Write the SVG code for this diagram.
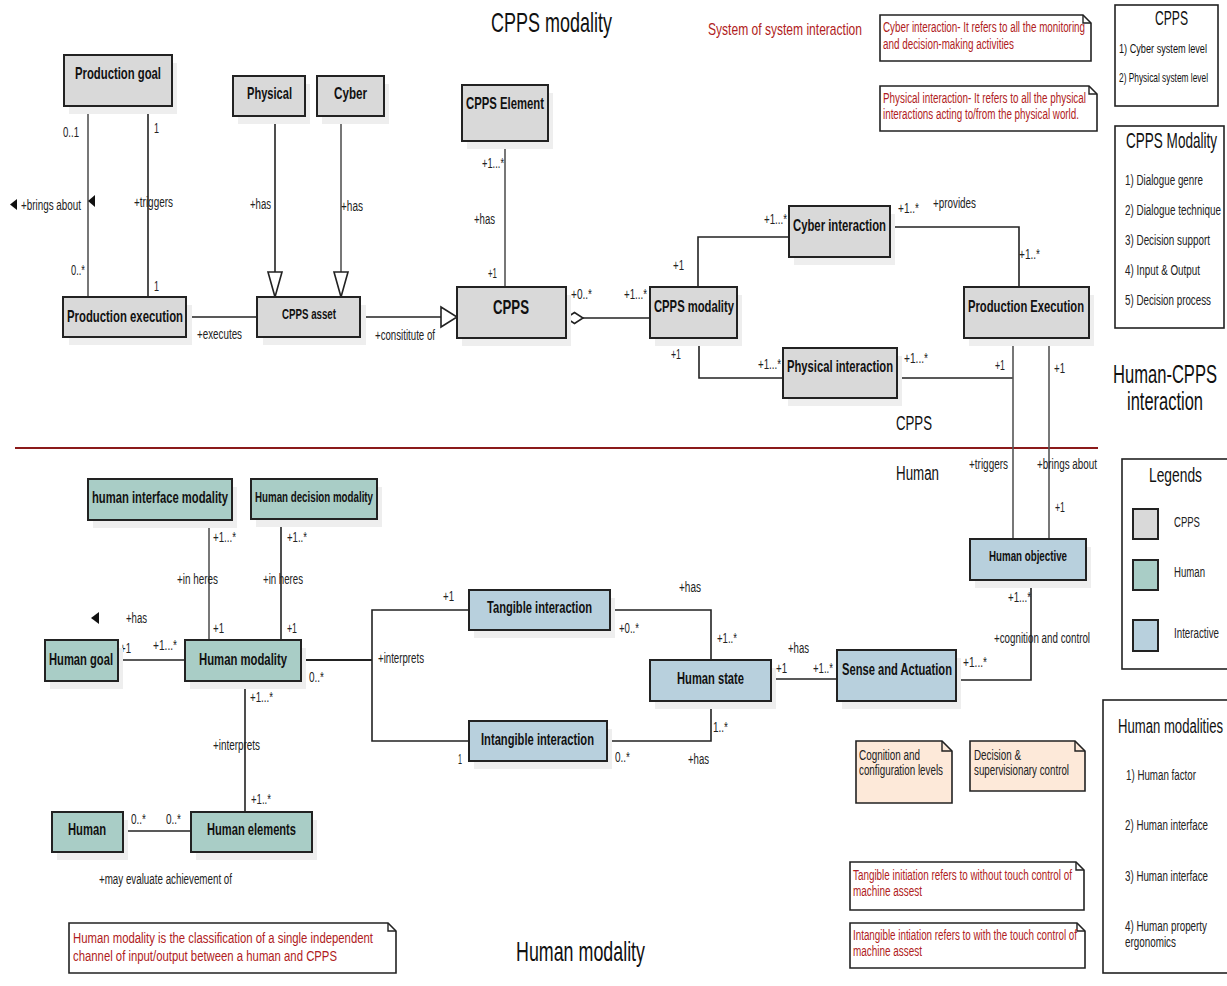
<svg xmlns="http://www.w3.org/2000/svg" width="1227" height="986" viewBox="0 0 1227 986">
<defs>
<style>
text{font-family:"Liberation Sans",Arial,sans-serif;fill:#111}
.nb{font-weight:bold;font-size:11.3px}
.ns{font-weight:bold;font-size:9.7px}
.lb{font-size:9.3px;fill:#222}
.rd{font-size:8.8px;fill:#b01c22}
.li{font-size:9.3px;fill:#222}
.box{stroke:#222;stroke-width:2}
.g{fill:#d9d9d9}
.h{fill:#a9cdc6}
.i{fill:#b8d0dd}
.p{fill:#fde9d9}
.sh{fill:#eeeeee}
.ln{fill:none;stroke:#222;stroke-width:1.6}
.lg{fill:none;stroke:#555;stroke-width:1.6}
.frame{fill:#fff;stroke:#222;stroke-width:1.6}
.note{fill:#fff;stroke:#222;stroke-width:1.6}
.fold{fill:none;stroke:#222;stroke-width:1.4}
.tri{fill:#fff;stroke:#222;stroke-width:1.6}
</style>
<linearGradient id="fadeLine" x1="0" y1="0" x2="1" y2="0">
<stop offset="0" stop-color="#8b1a1a" stop-opacity="0"/>
<stop offset="1" stop-color="#8b1a1a" stop-opacity="1"/>
</linearGradient>
</defs>
<rect width="1227" height="986" fill="#fff"/>

<!-- titles and region labels -->
<g id="titles">
<text style="font-size:18.7px" transform="translate(491,32) scale(1,1.5)" textLength="121" lengthAdjust="spacingAndGlyphs">CPPS modality</text>
<text style="font-size:18.7px" transform="translate(516,961) scale(1,1.5)" textLength="129" lengthAdjust="spacingAndGlyphs">Human modality</text>
<text style="font-size:11.3px;fill:#b01c22" transform="translate(708,35) scale(1,1.5)" textLength="154" lengthAdjust="spacingAndGlyphs">System of system interaction</text>
<text style="font-size:17px" transform="translate(1113,383) scale(1,1.5)" textLength="104" lengthAdjust="spacingAndGlyphs">Human-CPPS</text>
<text style="font-size:17px" transform="translate(1127,410) scale(1,1.5)" textLength="76" lengthAdjust="spacingAndGlyphs">interaction</text>
<text style="font-size:14px" transform="translate(896,430) scale(1,1.5)" textLength="36" lengthAdjust="spacingAndGlyphs">CPPS</text>
<text style="font-size:14px" transform="translate(896,480) scale(1,1.5)" textLength="43" lengthAdjust="spacingAndGlyphs">Human</text>
<line x1="15" y1="448" x2="1098" y2="448" stroke="#8b1a1a" stroke-width="2"/>
<line x1="737" y1="984" x2="1103" y2="984" stroke="url(#fadeLine)" stroke-width="2.5"/>
</g>

<!-- connectors -->
<g id="connectors">
<line class="lg" x1="88" y1="106" x2="88" y2="297"/>
<line class="ln" x1="148" y1="106" x2="148" y2="297"/>
<line class="ln" x1="275" y1="116" x2="275" y2="272"/>
<polygon class="tri" points="268,272 282,272 275,297"/>
<line class="lg" x1="341" y1="116" x2="341" y2="272"/>
<polygon class="tri" points="334,272 348,272 341,297"/>
<line class="ln" x1="186" y1="317" x2="257" y2="317"/>
<line class="ln" x1="360" y1="317" x2="441" y2="317"/>
<polygon class="tri" points="441,307 441,327 457,317"/>
<line class="lg" x1="505" y1="141" x2="505" y2="287"/>
<line class="ln" x1="583" y1="318" x2="650" y2="318"/>
<polygon class="tri" points="566,318 574.5,312.5 583,318 574.5,323.5"/>
<polyline class="ln" points="698,287 698,237 789,237"/>
<polyline class="ln" points="699,338 699,378 783,378"/>
<polyline class="ln" points="890,227 1019,227 1019,287"/>
<line class="ln" x1="897" y1="378" x2="1013" y2="378"/>
<line class="lg" x1="1013" y1="338" x2="1013" y2="539"/>
<line class="lg" x1="1049" y1="338" x2="1049" y2="539"/>
<line class="lg" x1="209" y1="520" x2="209" y2="640"/>
<line class="ln" x1="281" y1="519" x2="281" y2="640"/>
<line class="ln" x1="118" y1="660" x2="185" y2="660"/>
<line class="ln" x1="301" y1="660" x2="372" y2="660" style="stroke-width:2.2"/>
<polyline class="ln" points="469,610 372,610 372,741 469,741"/>
<line class="ln" x1="245" y1="681" x2="245" y2="812"/>
<line class="ln" x1="123" y1="831" x2="191" y2="831"/>
<polyline class="ln" points="610,610 711,610 711,660"/>
<polyline class="ln" points="607,741 711,741 711,701"/>
<line class="ln" x1="771" y1="679" x2="837" y2="679"/>
<polyline class="ln" points="956,680 1031,680 1031,580"/>
</g>

<!-- connector labels -->
<g id="labels">
<text class="lb" transform="translate(63,137) scale(1,1.5)" textLength="16" lengthAdjust="spacingAndGlyphs">0..1</text>
<text class="lb" transform="translate(154,133) scale(1,1.5)" textLength="5" lengthAdjust="spacingAndGlyphs">1</text>
<polygon points="17,199 17,210 10,204.5" fill="#111"/>
<text class="lb" transform="translate(21,210) scale(1,1.5)" textLength="60" lengthAdjust="spacingAndGlyphs">+brings about</text>
<polygon points="95,195 95,207 88,201" fill="#111"/>
<text class="lb" transform="translate(134,207) scale(1,1.5)" textLength="39" lengthAdjust="spacingAndGlyphs">+triggers</text>
<text class="lb" transform="translate(71,275) scale(1,1.5)" textLength="14" lengthAdjust="spacingAndGlyphs">0..*</text>
<text class="lb" transform="translate(154,291) scale(1,1.5)" textLength="5" lengthAdjust="spacingAndGlyphs">1</text>
<text class="lb" transform="translate(250,209) scale(1,1.5)" textLength="21" lengthAdjust="spacingAndGlyphs">+has</text>
<text class="lb" transform="translate(341,211) scale(1,1.5)" textLength="22" lengthAdjust="spacingAndGlyphs">+has</text>
<text class="lb" transform="translate(197,339) scale(1,1.5)" textLength="45" lengthAdjust="spacingAndGlyphs">+executes</text>
<text class="lb" transform="translate(375,340) scale(1,1.5)" textLength="60" lengthAdjust="spacingAndGlyphs">+consititute of</text>
<text class="lb" transform="translate(482,168) scale(1,1.5)" textLength="22" lengthAdjust="spacingAndGlyphs">+1...*</text>
<text class="lb" transform="translate(474,224) scale(1,1.5)" textLength="21" lengthAdjust="spacingAndGlyphs">+has</text>
<text class="lb" transform="translate(488,278) scale(1,1.5)" textLength="9" lengthAdjust="spacingAndGlyphs">+1</text>
<text class="lb" transform="translate(571,299) scale(1,1.5)" textLength="21" lengthAdjust="spacingAndGlyphs">+0..*</text>
<text class="lb" transform="translate(624,299) scale(1,1.5)" textLength="23" lengthAdjust="spacingAndGlyphs">+1...*</text>
<text class="lb" transform="translate(673,270) scale(1,1.5)" textLength="11" lengthAdjust="spacingAndGlyphs">+1</text>
<text class="lb" transform="translate(764,224) scale(1,1.5)" textLength="23" lengthAdjust="spacingAndGlyphs">+1...*</text>
<text class="lb" transform="translate(671,359) scale(1,1.5)" textLength="10" lengthAdjust="spacingAndGlyphs">+1</text>
<text class="lb" transform="translate(758,369) scale(1,1.5)" textLength="23" lengthAdjust="spacingAndGlyphs">+1...*</text>
<text class="lb" transform="translate(898,213) scale(1,1.5)" textLength="21" lengthAdjust="spacingAndGlyphs">+1..*</text>
<text class="lb" transform="translate(933,208) scale(1,1.5)" textLength="43" lengthAdjust="spacingAndGlyphs">+provides</text>
<text class="lb" transform="translate(1019,259) scale(1,1.5)" textLength="21" lengthAdjust="spacingAndGlyphs">+1..*</text>
<text class="lb" transform="translate(904,363) scale(1,1.5)" textLength="24" lengthAdjust="spacingAndGlyphs">+1...*</text>
<text class="lb" transform="translate(995,370) scale(1,1.5)" textLength="10" lengthAdjust="spacingAndGlyphs">+1</text>
<text class="lb" transform="translate(1054,373) scale(1,1.5)" textLength="11" lengthAdjust="spacingAndGlyphs">+1</text>
<text class="lb" transform="translate(969,469) scale(1,1.5)" textLength="39" lengthAdjust="spacingAndGlyphs">+triggers</text>
<text class="lb" transform="translate(1037,469) scale(1,1.5)" textLength="60" lengthAdjust="spacingAndGlyphs">+brings about</text>
<text class="lb" transform="translate(1055,512) scale(1,1.5)" textLength="10" lengthAdjust="spacingAndGlyphs">+1</text>
<text class="lb" transform="translate(213,542) scale(1,1.5)" textLength="23" lengthAdjust="spacingAndGlyphs">+1...*</text>
<text class="lb" transform="translate(287,542) scale(1,1.5)" textLength="20" lengthAdjust="spacingAndGlyphs">+1..*</text>
<text class="lb" transform="translate(177,584) scale(1,1.5)" textLength="41" lengthAdjust="spacingAndGlyphs">+in heres</text>
<text class="lb" transform="translate(263,584) scale(1,1.5)" textLength="40" lengthAdjust="spacingAndGlyphs">+in heres</text>
<text class="lb" transform="translate(213,633) scale(1,1.5)" textLength="11" lengthAdjust="spacingAndGlyphs">+1</text>
<text class="lb" transform="translate(287,633) scale(1,1.5)" textLength="10" lengthAdjust="spacingAndGlyphs">+1</text>
<polygon points="99,612 99,624 91,618" fill="#111"/>
<text class="lb" transform="translate(126,623) scale(1,1.5)" textLength="21" lengthAdjust="spacingAndGlyphs">+has</text>
<text class="lb" transform="translate(120,653) scale(1,1.5)" textLength="11" lengthAdjust="spacingAndGlyphs">+1</text>
<text class="lb" transform="translate(153,650) scale(1,1.5)" textLength="24" lengthAdjust="spacingAndGlyphs">+1...*</text>
<text class="lb" transform="translate(309,682) scale(1,1.5)" textLength="15" lengthAdjust="spacingAndGlyphs">0..*</text>
<text class="lb" transform="translate(378,663) scale(1,1.5)" textLength="46" lengthAdjust="spacingAndGlyphs">+interprets</text>
<text class="lb" transform="translate(250,702) scale(1,1.5)" textLength="23" lengthAdjust="spacingAndGlyphs">+1...*</text>
<text class="lb" transform="translate(213,750) scale(1,1.5)" textLength="47" lengthAdjust="spacingAndGlyphs">+interprets</text>
<text class="lb" transform="translate(251,804) scale(1,1.5)" textLength="20" lengthAdjust="spacingAndGlyphs">+1..*</text>
<text class="lb" transform="translate(131,824) scale(1,1.5)" textLength="15" lengthAdjust="spacingAndGlyphs">0..*</text>
<text class="lb" transform="translate(166,824) scale(1,1.5)" textLength="15" lengthAdjust="spacingAndGlyphs">0..*</text>
<text class="lb" transform="translate(99,884) scale(1,1.5)" textLength="133" lengthAdjust="spacingAndGlyphs">+may evaluate achievement of</text>
<text class="lb" transform="translate(443,601) scale(1,1.5)" textLength="11" lengthAdjust="spacingAndGlyphs">+1</text>
<text class="lb" transform="translate(458,764) scale(1,1.5)" textLength="4" lengthAdjust="spacingAndGlyphs">1</text>
<text class="lb" transform="translate(679,592) scale(1,1.5)" textLength="22" lengthAdjust="spacingAndGlyphs">+has</text>
<text class="lb" transform="translate(619,633) scale(1,1.5)" textLength="20" lengthAdjust="spacingAndGlyphs">+0..*</text>
<text class="lb" transform="translate(717,643) scale(1,1.5)" textLength="20" lengthAdjust="spacingAndGlyphs">+1..*</text>
<text class="lb" transform="translate(713,732) scale(1,1.5)" textLength="15" lengthAdjust="spacingAndGlyphs">1..*</text>
<text class="lb" transform="translate(615,762) scale(1,1.5)" textLength="15" lengthAdjust="spacingAndGlyphs">0..*</text>
<text class="lb" transform="translate(688,764) scale(1,1.5)" textLength="21" lengthAdjust="spacingAndGlyphs">+has</text>
<text class="lb" transform="translate(788,653) scale(1,1.5)" textLength="21" lengthAdjust="spacingAndGlyphs">+has</text>
<text class="lb" transform="translate(776,673) scale(1,1.5)" textLength="11" lengthAdjust="spacingAndGlyphs">+1</text>
<text class="lb" transform="translate(813,673) scale(1,1.5)" textLength="20" lengthAdjust="spacingAndGlyphs">+1..*</text>
<text class="lb" transform="translate(1008,602) scale(1,1.5)" textLength="23" lengthAdjust="spacingAndGlyphs">+1...*</text>
<text class="lb" transform="translate(994,643) scale(1,1.5)" textLength="96" lengthAdjust="spacingAndGlyphs">+cognition and control</text>
<text class="lb" transform="translate(963,667) scale(1,1.5)" textLength="24" lengthAdjust="spacingAndGlyphs">+1...*</text>
</g>

<!-- CPPS nodes -->
<g id="production-goal">
<rect class="sh" x="69" y="63" width="108" height="51"/>
<rect class="box g" x="64" y="55" width="108" height="51"/>
<text class="nb" transform="translate(75,79) scale(1,1.5)" textLength="86" lengthAdjust="spacingAndGlyphs">Production goal</text>
</g>
<g id="physical">
<rect class="sh" x="238" y="84" width="72" height="40"/>
<rect class="box g" x="233" y="76" width="72" height="40"/>
<text class="nb" transform="translate(247,99) scale(1,1.5)" textLength="45" lengthAdjust="spacingAndGlyphs">Physical</text>
</g>
<g id="cyber">
<rect class="sh" x="322" y="84" width="67" height="40"/>
<rect class="box g" x="317" y="76" width="67" height="40"/>
<text class="nb" transform="translate(334,99) scale(1,1.5)" textLength="33" lengthAdjust="spacingAndGlyphs">Cyber</text>
</g>
<g id="production-execution">
<rect class="sh" x="69" y="305" width="123" height="40"/>
<rect class="box g" x="63" y="297" width="123" height="40"/>
<text class="nb" transform="translate(67,322) scale(1,1.5)" textLength="116" lengthAdjust="spacingAndGlyphs">Production execution</text>
</g>
<g id="cpps-asset">
<rect class="sh" x="263" y="305" width="103" height="40"/>
<rect class="box g" x="257" y="297" width="103" height="40"/>
<text class="ns" transform="translate(282,319) scale(1,1.5)" textLength="54" lengthAdjust="spacingAndGlyphs">CPPS asset</text>
</g>
<g id="cpps-element">
<rect class="sh" x="467" y="93" width="86" height="56"/>
<rect class="box g" x="462" y="85" width="86" height="56"/>
<text class="nb" transform="translate(466,109) scale(1,1.5)" textLength="78" lengthAdjust="spacingAndGlyphs">CPPS Element</text>
</g>
<g id="cpps">
<rect class="sh" x="462" y="295" width="109" height="51"/>
<rect class="box g" x="457" y="287" width="109" height="51"/>
<text style="font-weight:bold;font-size:14px" transform="translate(493,314) scale(1,1.5)" textLength="36" lengthAdjust="spacingAndGlyphs">CPPS</text>
</g>
<g id="cpps-modality">
<rect class="sh" x="655" y="295" width="87" height="51"/>
<rect class="box g" x="650" y="287" width="87" height="51"/>
<text class="nb" transform="translate(654,312) scale(1,1.5)" textLength="80" lengthAdjust="spacingAndGlyphs">CPPS modality</text>
</g>
<g id="cyber-interaction">
<rect class="sh" x="794" y="214" width="101" height="51"/>
<rect class="box g" x="789" y="206" width="101" height="51"/>
<text class="nb" transform="translate(793,231) scale(1,1.5)" textLength="93" lengthAdjust="spacingAndGlyphs">Cyber interaction</text>
</g>
<g id="physical-interaction">
<rect class="sh" x="788" y="356" width="114" height="50"/>
<rect class="box g" x="783" y="348" width="114" height="50"/>
<text class="nb" transform="translate(787,372) scale(1,1.5)" textLength="106" lengthAdjust="spacingAndGlyphs">Physical interaction</text>
</g>
<g id="production-execution-2">
<rect class="sh" x="969" y="295" width="125" height="51"/>
<rect class="box g" x="964" y="287" width="125" height="51"/>
<text class="nb" transform="translate(968,312) scale(1,1.5)" textLength="116" lengthAdjust="spacingAndGlyphs">Production Execution</text>
</g>

<!-- Human nodes -->
<g id="human-interface-modality">
<rect class="sh" x="93" y="487" width="144" height="41"/>
<rect class="box h" x="88" y="479" width="144" height="41"/>
<text class="nb" transform="translate(92,503) scale(1,1.5)" textLength="136" lengthAdjust="spacingAndGlyphs">human interface modality</text>
</g>
<g id="human-decision-modality">
<rect class="sh" x="256" y="487" width="126" height="40"/>
<rect class="box h" x="251" y="479" width="126" height="40"/>
<text class="ns" transform="translate(255,502) scale(1,1.5)" textLength="118" lengthAdjust="spacingAndGlyphs">Human decision modality</text>
</g>
<g id="human-goal">
<rect class="sh" x="50" y="648" width="73" height="41"/>
<rect class="box h" x="45" y="640" width="73" height="41"/>
<text class="nb" transform="translate(49,665) scale(1,1.5)" textLength="64" lengthAdjust="spacingAndGlyphs">Human goal</text>
</g>
<g id="human-modality">
<rect class="sh" x="190" y="648" width="116" height="41"/>
<rect class="box h" x="185" y="640" width="116" height="41"/>
<text class="nb" transform="translate(199,665) scale(1,1.5)" textLength="88" lengthAdjust="spacingAndGlyphs">Human modality</text>
</g>
<g id="human">
<rect class="sh" x="57" y="820" width="71" height="40"/>
<rect class="box h" x="52" y="812" width="71" height="40"/>
<text class="nb" transform="translate(68,835) scale(1,1.5)" textLength="38" lengthAdjust="spacingAndGlyphs">Human</text>
</g>
<g id="human-elements">
<rect class="sh" x="196" y="820" width="121" height="40"/>
<rect class="box h" x="191" y="812" width="121" height="40"/>
<text class="nb" transform="translate(207,835) scale(1,1.5)" textLength="89" lengthAdjust="spacingAndGlyphs">Human elements</text>
</g>

<!-- Interactive nodes -->
<g id="tangible-interaction">
<rect class="sh" x="474" y="598" width="141" height="40"/>
<rect class="box i" x="469" y="590" width="141" height="40"/>
<text class="nb" transform="translate(487,613) scale(1,1.5)" textLength="105" lengthAdjust="spacingAndGlyphs">Tangible interaction</text>
</g>
<g id="intangible-interaction">
<rect class="sh" x="474" y="729" width="138" height="40"/>
<rect class="box i" x="469" y="721" width="138" height="40"/>
<text class="nb" transform="translate(481,745) scale(1,1.5)" textLength="113" lengthAdjust="spacingAndGlyphs">Intangible interaction</text>
</g>
<g id="human-state">
<rect class="sh" x="655" y="668" width="121" height="41"/>
<rect class="box i" x="650" y="660" width="121" height="41"/>
<text class="nb" transform="translate(677,684) scale(1,1.5)" textLength="67" lengthAdjust="spacingAndGlyphs">Human state</text>
</g>
<g id="sense-and-actuation">
<rect class="sh" x="842" y="658" width="119" height="51"/>
<rect class="box i" x="837" y="650" width="119" height="51"/>
<text class="nb" transform="translate(842,675) scale(1,1.5)" textLength="110" lengthAdjust="spacingAndGlyphs">Sense and Actuation</text>
</g>
<g id="human-objective">
<rect class="sh" x="975" y="547" width="116" height="41"/>
<rect class="box i" x="970" y="539" width="116" height="41"/>
<text class="ns" transform="translate(989,561) scale(1,1.5)" textLength="78" lengthAdjust="spacingAndGlyphs">Human objective</text>
</g>

<!-- peach notes -->
<g id="note-cognition">
<path class="p" d="M856,741 H942 L952,751 V803 H856 Z" stroke="#222" stroke-width="1.6"/>
<path class="fold" d="M942,741 V751 H952"/>
<text class="li" transform="translate(859,760) scale(1,1.5)" textLength="61" lengthAdjust="spacingAndGlyphs">Cognition and</text>
<text class="li" transform="translate(859,775) scale(1,1.5)" textLength="84" lengthAdjust="spacingAndGlyphs">configuration levels</text>
</g>
<g id="note-decision">
<path class="p" d="M970,741 H1075 L1085,751 V791 H970 Z" stroke="#222" stroke-width="1.6"/>
<path class="fold" d="M1075,741 V751 H1085"/>
<text class="li" transform="translate(974,760) scale(1,1.5)" textLength="47" lengthAdjust="spacingAndGlyphs">Decision &amp;</text>
<text class="li" transform="translate(974,775) scale(1,1.5)" textLength="95" lengthAdjust="spacingAndGlyphs">supervisionary control</text>
</g>

<!-- red notes -->
<g id="note-cyber">
<path class="note" d="M880,15 H1083 L1091,23 V61 H880 Z"/>
<path class="fold" d="M1083,15 V23 H1091"/>
<text class="rd" transform="translate(883,32) scale(1,1.7)" textLength="202" lengthAdjust="spacingAndGlyphs">Cyber interaction- It refers to all the monitoring</text>
<text class="rd" transform="translate(883,49) scale(1,1.7)" textLength="131" lengthAdjust="spacingAndGlyphs">and decision-making activities</text>
</g>
<g id="note-physical">
<path class="note" d="M880,86 H1089 L1097,94 V131 H880 Z"/>
<path class="fold" d="M1089,86 V94 H1097"/>
<text class="rd" transform="translate(883,103) scale(1,1.7)" textLength="203" lengthAdjust="spacingAndGlyphs">Physical interaction- It refers to all the physical</text>
<text class="rd" transform="translate(883,119) scale(1,1.7)" textLength="196" lengthAdjust="spacingAndGlyphs">interactions acting to/from the physical world.</text>
</g>
<g id="note-tangible">
<path class="note" d="M850,862 H1076 L1084,870 V910 H850 Z"/>
<path class="fold" d="M1076,862 V870 H1084"/>
<text class="rd" transform="translate(853,880) scale(1,1.7)" textLength="219" lengthAdjust="spacingAndGlyphs">Tangible initiation refers to without touch control of</text>
<text class="rd" transform="translate(853,896) scale(1,1.7)" textLength="69" lengthAdjust="spacingAndGlyphs">machine assest</text>
</g>
<g id="note-intangible">
<path class="note" d="M850,923 H1077 L1085,931 V968 H850 Z"/>
<path class="fold" d="M1077,923 V931 H1085"/>
<text class="rd" transform="translate(853,940) scale(1,1.7)" textLength="224" lengthAdjust="spacingAndGlyphs">Intangible intiation refers to with the touch control of</text>
<text class="rd" transform="translate(853,956) scale(1,1.7)" textLength="69" lengthAdjust="spacingAndGlyphs">machine assest</text>
</g>
<g id="note-human-modality">
<path class="note" d="M69,923 H388 L396,931 V973 H69 Z"/>
<path class="fold" d="M388,923 V931 H396"/>
<text class="rd" transform="translate(73,943) scale(1,1.7)" textLength="300" lengthAdjust="spacingAndGlyphs">Human modality is the classification of a single independent</text>
<text class="rd" transform="translate(73,961) scale(1,1.7)" textLength="264" lengthAdjust="spacingAndGlyphs">channel of input/output between a human and CPPS</text>
</g>

<!-- side boxes -->
<g id="box-cpps">
<rect class="frame" x="1115" y="5" width="103" height="101"/>
<text style="font-size:13.3px" transform="translate(1155,25) scale(1,1.5)" textLength="33" lengthAdjust="spacingAndGlyphs">CPPS</text>
<text style="font-size:8.8px" transform="translate(1119,53) scale(1,1.5)" textLength="88" lengthAdjust="spacingAndGlyphs">1) Cyber system level</text>
<text style="font-size:8.8px" transform="translate(1119,82) scale(1,1.5)" textLength="89" lengthAdjust="spacingAndGlyphs">2) Physical system level</text>
</g>
<g id="box-cpps-modality">
<rect class="frame" x="1115" y="126" width="109" height="202"/>
<text style="font-size:14.5px" transform="translate(1126,148) scale(1,1.5)" textLength="91" lengthAdjust="spacingAndGlyphs">CPPS Modality</text>
<text class="li" transform="translate(1125,185) scale(1,1.5)" textLength="78" lengthAdjust="spacingAndGlyphs">1) Dialogue genre</text>
<text class="li" transform="translate(1125,215) scale(1,1.5)" textLength="96" lengthAdjust="spacingAndGlyphs">2) Dialogue technique</text>
<text class="li" transform="translate(1125,245) scale(1,1.5)" textLength="85" lengthAdjust="spacingAndGlyphs">3) Decision support</text>
<text class="li" transform="translate(1125,275) scale(1,1.5)" textLength="75" lengthAdjust="spacingAndGlyphs">4) Input &amp; Output</text>
<text class="li" transform="translate(1125,305) scale(1,1.5)" textLength="86" lengthAdjust="spacingAndGlyphs">5) Decision process</text>
</g>
<g id="box-legends">
<rect class="frame" x="1122" y="459" width="110" height="210"/>
<text style="font-size:14px" transform="translate(1149,482) scale(1,1.5)" textLength="53" lengthAdjust="spacingAndGlyphs">Legends</text>
<rect class="g" x="1133" y="509" width="25" height="30" stroke="#222" stroke-width="2"/>
<rect class="h" x="1133" y="560" width="25" height="30" stroke="#222" stroke-width="2"/>
<rect class="i" x="1133" y="620" width="25" height="31" stroke="#222" stroke-width="2"/>
<text class="li" transform="translate(1174,527) scale(1,1.5)" textLength="26" lengthAdjust="spacingAndGlyphs">CPPS</text>
<text class="li" transform="translate(1174,577) scale(1,1.5)" textLength="31" lengthAdjust="spacingAndGlyphs">Human</text>
<text class="li" transform="translate(1174,638) scale(1,1.5)" textLength="45" lengthAdjust="spacingAndGlyphs">Interactive</text>
</g>
<g id="box-human-modalities">
<rect class="frame" x="1103" y="700" width="130" height="273"/>
<text style="font-size:13px" transform="translate(1118,733) scale(1,1.6)" textLength="105" lengthAdjust="spacingAndGlyphs">Human modalities</text>
<text class="li" transform="translate(1126,780) scale(1,1.5)" textLength="70" lengthAdjust="spacingAndGlyphs">1) Human factor</text>
<text class="li" transform="translate(1125,830) scale(1,1.5)" textLength="83" lengthAdjust="spacingAndGlyphs">2) Human interface</text>
<text class="li" transform="translate(1125,881) scale(1,1.5)" textLength="83" lengthAdjust="spacingAndGlyphs">3) Human interface</text>
<text class="li" transform="translate(1125,931) scale(1,1.5)" textLength="82" lengthAdjust="spacingAndGlyphs">4) Human property</text>
<text class="li" transform="translate(1125,947) scale(1,1.5)" textLength="51" lengthAdjust="spacingAndGlyphs">ergonomics</text>
</g>
</svg>
